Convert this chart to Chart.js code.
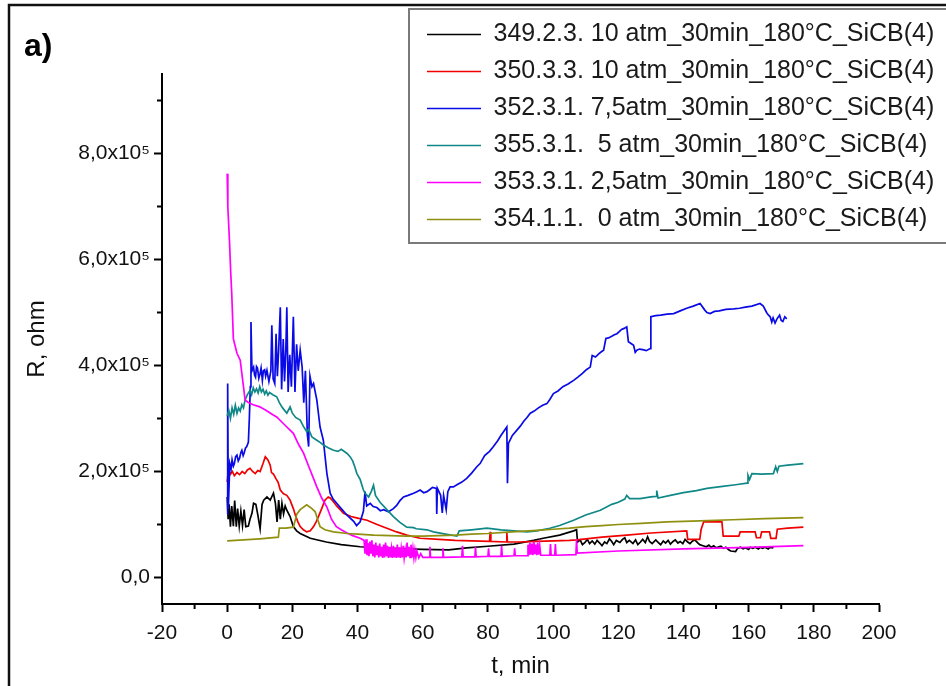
<!DOCTYPE html>
<html>
<head>
<meta charset="utf-8">
<script src="https://cdn.jsdelivr.net/npm/chart.js@4.4.1/dist/chart.umd.min.js"></script>
<style>
html,body{margin:0;padding:0;background:#fff;}
#wrap{width:946px;height:686px;position:relative;}
</style>
</head>
<body>
<div id="wrap"><canvas id="c" width="946" height="686"></canvas></div>
<script>
// ---- data (t in min, R in units of 10^5 ohm) ----
const seriesLabels = [
  '349.2.3. 10 atm_30min_180°C_SiCB(4)',
  '350.3.3. 10 atm_30min_180°C_SiCB(4)',
  '352.3.1. 7,5atm_30min_180°C_SiCB(4)',
  '355.3.1.  5 atm_30min_180°C_SiCB(4)',
  '353.3.1. 2,5atm_30min_180°C_SiCB(4)',
  '354.1.1.  0 atm_30min_180°C_SiCB(4)'
];
const seriesColors = ['#000000', '#f00000', '#0a0ae6', '#108888', '#ff00ff', '#909010'];

const s349 = [[0,1.52],[0.3,1.10],[0.6,1.38],[1.0,0.96],[1.4,1.35],[1.9,0.97],[2.3,1.45],[2.8,0.96],[3.2,1.30],[3.7,0.97],[4.2,1.25],[4.7,0.98],[5.2,1.28],[5.7,0.96],[6.5,0.97],[7.0,1.10],[7.6,1.21],[8.1,1.40],[8.8,1.38],[9.4,1.18],[10.1,0.92],[10.7,1.38],[11.2,1.46],[12.2,1.52],[13.2,1.46],[14.2,1.59],[14.8,1.40],[15.3,1.05],[15.8,1.46],[16.3,1.10],[16.8,1.40],[17.3,1.20],[17.8,1.35],[18.3,1.27],[19.3,1.15],[20.3,0.96],[21.3,0.88],[22.4,0.83],[25.5,0.74],[30.4,0.67],[35,0.62],[40.8,0.58],[51,0.55],[60,0.53],[68,0.52],[73.5,0.56],[80,0.59],[88,0.63],[94,0.70],[97,0.74],[102,0.80],[106.3,0.88],[107.2,0.90],[107.5,0.67],[108.3,0.71],[109,0.62],[109.8,0.66],[110.5,0.72],[111.2,0.64],[112,0.69],[112.8,0.63],[113.5,0.70],[114.3,0.65],[115,0.60],[115.8,0.67],[116.5,0.64],[117.3,0.73],[118,0.68],[118.6,0.62],[119.4,0.70],[120.5,0.66],[121.3,0.72],[122,0.75],[122.6,0.66],[123.4,0.70],[124.5,0.64],[125.3,0.71],[126,0.62],[126.8,0.67],[127.5,0.72],[128.3,0.66],[129,0.77],[129.6,0.68],[130.4,0.64],[131.5,0.71],[132.3,0.66],[133,0.62],[133.8,0.69],[134.5,0.65],[135.3,0.70],[136,0.63],[136.8,0.68],[137.5,0.71],[138.3,0.65],[139,0.68],[139.8,0.64],[140.5,0.72],[141.3,0.67],[142,0.64],[142.8,0.69],[143.5,0.71],[144.3,0.66],[145,0.62],[146,0.60],[147,0.58],[147.8,0.61],[148.5,0.57],[149.3,0.60],[150,0.56],[151.5,0.59],[152.3,0.55],[153,0.57],[154,0.52],[154.5,0.50],[156,0.49],[156.6,0.55],[157.5,0.57],[158.3,0.54],[159,0.56],[160,0.53],[160.5,0.57],[161.3,0.55],[162,0.57],[163,0.54],[163.5,0.57],[164.3,0.55],[165,0.57],[166,0.54],[166.5,0.57],[167.6,0.56]];

const s350 = [[0,1.80],[0.4,2.05],[1,1.95],[1.6,2.00],[2.2,1.92],[3,1.98],[3.8,1.94],[4.6,2.00],[5.4,1.96],[6.2,2.03],[7,2.06],[7.8,2.00],[8.6,1.96],[9.4,2.02],[10.1,2.00],[11,2.15],[11.7,2.28],[12.5,2.22],[13.2,2.12],[13.6,1.98],[14.2,1.95],[15,1.86],[15.6,1.80],[16.3,1.65],[17.3,1.58],[18.3,1.55],[19.3,1.46],[20.3,1.30],[20.9,1.18],[21.7,1.05],[22.4,0.96],[23.4,0.90],[24.4,0.86],[25.5,0.88],[26.5,0.96],[27.3,1.05],[28,1.15],[29,1.30],[30,1.46],[31,1.52],[31.6,1.50],[32.6,1.43],[33.6,1.35],[35.7,1.21],[38,1.15],[40,1.12],[42.9,1.08],[46,1.00],[49,0.93],[52,0.86],[55.1,0.80],[59.2,0.74],[65,0.72],[70,0.70],[75,0.69],[80.5,0.68],[80.7,0.86],[80.9,0.68],[85.6,0.67],[85.8,0.86],[86,0.67],[90,0.67],[95,0.68],[100,0.69],[105,0.70],[107.3,0.71],[115,0.76],[122.6,0.80],[130,0.84],[141,0.88],[141.3,0.72],[145,0.72],[145.4,0.90],[146.2,1.05],[151.8,1.05],[152.2,0.78],[157,0.78],[157.4,0.86],[162,0.86],[162.4,0.75],[163.6,0.75],[164,0.86],[166.4,0.86],[166.8,0.74],[168.4,0.74],[168.8,0.91],[172,0.93],[176.8,0.95]];

const s352 = [[0,1.20],[0.15,3.66],[0.35,1.30],[0.8,2.15],[1.2,2.05],[1.5,2.22],[1.9,2.10],[2.2,2.15],[2.6,2.28],[3,2.31],[3.4,2.20],[3.8,2.25],[4.2,2.36],[4.5,2.40],[4.9,2.30],[5.2,2.35],[5.6,2.44],[6,2.47],[6.5,2.55],[6.8,3.00],[7.1,3.60],[7.3,4.82],[7.6,3.90],[8.1,3.97],[8.4,3.82],[8.7,3.78],[9.0,3.98],[9.3,3.95],[9.7,3.76],[10.1,3.85],[10.4,3.95],[10.8,3.72],[11.1,3.90],[11.5,3.92],[11.8,3.80],[12.2,3.91],[12.8,3.70],[13.4,3.90],[13.7,4.76],[14.1,3.75],[14.6,3.66],[15.0,4.60],[15.4,3.80],[15.8,4.30],[16.3,5.10],[16.7,3.55],[17.2,4.50],[17.6,3.70],[18.0,4.30],[18.3,5.10],[18.7,3.50],[19.2,4.20],[19.7,3.60],[20.3,4.92],[20.8,3.50],[21.3,4.40],[21.8,3.90],[22.4,4.29],[23.0,3.97],[23.5,3.30],[24.0,3.90],[24.6,2.70],[25.0,2.47],[25.4,3.80],[26.0,3.60],[26.5,3.66],[27.5,3.35],[28.5,2.84],[29.5,2.59],[30.6,1.96],[31.6,1.59],[32.5,1.48],[33.6,1.40],[35,1.30],[36.7,1.18],[38.8,1.06],[39.7,0.98],[40.8,1.05],[41.8,1.25],[42.3,1.62],[42.8,1.35],[43.9,1.40],[44.8,1.34],[45.9,1.32],[47,1.26],[48,1.28],[49.5,1.24],[51,1.30],[52,1.36],[53,1.45],[54.1,1.52],[55.5,1.55],[57.2,1.59],[58.2,1.62],[59.2,1.65],[60.3,1.60],[61.3,1.62],[62.2,1.66],[63,1.70],[64.2,1.68],[64.3,1.20],[64.5,1.68],[65.5,1.55],[66,1.22],[66.4,1.55],[67.2,1.28],[67.7,1.62],[68.4,1.71],[69.4,1.71],[70.5,1.75],[72,1.80],[73.5,1.87],[75,1.97],[76.6,2.09],[77.6,2.15],[79,2.30],[80.5,2.38],[81.7,2.47],[83,2.58],[84,2.68],[85.8,2.84],[86.0,1.78],[86.3,2.53],[87.5,2.68],[88.9,2.78],[90,2.86],[91,2.95],[92,3.02],[93,3.10],[94.2,3.14],[95.5,3.20],[96.8,3.25],[98.1,3.28],[99,3.36],[100.1,3.47],[101.5,3.52],[103,3.60],[104.6,3.65],[106.3,3.72],[107.6,3.78],[109,3.85],[110.2,3.92],[111.4,3.97],[112,4.19],[113,4.16],[114,4.22],[114.8,4.26],[115.5,4.29],[116.2,4.51],[117,4.52],[118,4.55],[118.8,4.58],[119.6,4.60],[120.3,4.64],[121,4.68],[121.8,4.70],[122.6,4.73],[123.1,4.45],[123.8,4.42],[124.7,4.38],[125.2,4.25],[125.7,4.29],[126.5,4.31],[127.5,4.30],[128.6,4.28],[129.8,4.32],[130,4.92],[131.5,4.94],[133,4.95],[135,4.97],[137,4.98],[139,5.03],[141,5.08],[143,5.12],[145.1,5.17],[146.5,5.05],[147.2,5.00],[148.2,4.98],[149.5,5.02],[151,5.03],[153,5.06],[155.4,5.07],[157.2,5.08],[159,5.10],[161,5.12],[163.5,5.17],[164.5,5.12],[165.5,5.00],[166.1,4.95],[166.6,4.92],[167.1,4.82],[167.5,4.90],[168.1,4.80],[168.7,4.88],[169.5,4.95],[170,4.85],[170.5,4.83],[171.1,4.92],[171.7,4.88]];

const s355 = [[0,3.05],[0.5,3.15],[1,3.00],[1.5,3.20],[2,3.08],[2.5,3.25],[3,3.10],[3.5,3.20],[4,3.14],[4.5,3.26],[5,3.20],[5.5,3.35],[6.2,3.45],[7,3.53],[7.5,3.45],[8,3.58],[8.5,3.50],[9,3.56],[9.5,3.48],[10,3.60],[10.5,3.50],[11,3.55],[11.5,3.46],[12,3.52],[12.5,3.44],[13,3.49],[14,3.45],[15.2,3.41],[16,3.30],[17,3.20],[18.3,3.10],[19.3,3.22],[20,3.10],[21,3.02],[22.4,2.97],[23.4,2.85],[24.4,2.75],[25,2.80],[26,2.65],[27.5,2.59],[28.5,2.55],[29.5,2.50],[31,2.45],[32.6,2.40],[34,2.38],[35,2.42],[36.8,2.34],[37.7,2.28],[38.5,2.20],[39.2,2.08],[39.8,1.96],[40.8,1.85],[41.8,1.65],[42.3,1.59],[43.4,1.52],[44.2,1.62],[44.9,1.74],[45.5,1.55],[46.9,1.42],[49,1.28],[51,1.15],[53,1.04],[55.1,0.95],[57.2,0.94],[58,0.92],[61.3,0.90],[63.3,0.86],[67,0.82],[70.5,0.78],[71.2,0.88],[75,0.90],[79.7,0.93],[84,0.90],[88,0.88],[92,0.86],[95,0.88],[99,0.93],[102,0.98],[106.3,1.08],[110,1.18],[114.5,1.27],[118,1.38],[120,1.42],[122,1.48],[122.6,1.55],[123.5,1.49],[126.7,1.49],[130,1.52],[131.6,1.53],[131.8,1.64],[132.2,1.50],[136,1.55],[140,1.60],[144,1.64],[147.2,1.68],[152,1.72],[156,1.75],[159.5,1.78],[159.8,1.93],[160.3,1.85],[161,1.96],[164,1.95],[167.6,1.96],[168.3,2.09],[168.8,2.00],[169.3,2.10],[172,2.12],[176.8,2.15]];

const s353 = [[0,7.62],[0.2,6.99],[0.7,6.36],[1.1,5.73],[1.4,5.36],[1.9,4.50],[3.0,4.23],[4.0,4.10],[5.0,3.60],[5.5,3.35],[6.5,3.30],[8,3.26],[10,3.22],[12,3.15],[14,3.07],[15.2,3.03],[17,2.92],[18.3,2.84],[20.3,2.72],[22,2.50],[23.4,2.35],[25,2.10],[27.5,1.71],[29,1.50],[30.6,1.33],[32,1.10],[33.5,0.96],[35,0.90],[36.8,0.84],[38.5,0.79],[40.8,0.74],[42,0.70],[42.3,0.45],[42.6,0.72],[42.9,0.42],[43.2,0.65],[43.5,0.40],[43.8,0.68],[44.1,0.45],[44.4,0.70],[44.7,0.40],[45,0.62],[45.3,0.38],[45.6,0.66],[45.9,0.42],[46.2,0.60],[46.5,0.38],[46.8,0.64],[47.1,0.40],[47.4,0.58],[47.7,0.37],[48,0.62],[48.3,0.38],[48.6,0.66],[48.9,0.40],[49.2,0.60],[49.5,0.37],[49.8,0.58],[50.1,0.38],[50.4,0.55],[50.7,0.37],[51,0.60],[51.3,0.38],[51.6,0.56],[51.9,0.37],[52.2,0.62],[52.5,0.38],[52.8,0.57],[53.1,0.37],[53.4,0.55],[53.7,0.38],[54,0.60],[54.3,0.37],[54.6,0.52],[54.9,0.38],[55.2,0.66],[55.5,0.40],[55.8,0.58],[56.1,0.38],[56.4,0.62],[56.7,0.38],[57,0.55],[57.3,0.37],[57.6,0.52],[57.9,0.38],[58.2,0.50],[58.8,0.37],[59.4,0.45],[60,0.38],[62,0.38],[62.2,0.58],[62.4,0.38],[66,0.38],[66.2,0.55],[66.4,0.38],[72,0.39],[72.2,0.60],[72.4,0.39],[76,0.39],[76.2,0.58],[76.4,0.39],[80,0.40],[80.2,0.55],[80.4,0.40],[84,0.40],[84.2,0.60],[84.4,0.40],[88,0.41],[88.2,0.55],[88.4,0.41],[92,0.41],[92.3,0.62],[92.6,0.42],[92.9,0.66],[93.2,0.43],[93.5,0.64],[93.8,0.42],[94.1,0.68],[94.4,0.44],[94.7,0.62],[95,0.42],[95.3,0.66],[95.6,0.43],[95.9,0.60],[96.2,0.42],[97,0.42],[99,0.42],[99.2,0.63],[99.4,0.42],[100.5,0.42],[100.7,0.63],[100.9,0.42],[107,0.43],[107.2,0.72],[107.4,0.46],[120,0.50],[140,0.54],[160,0.57],[176.8,0.60]];

const s354 = [[0,0.69],[5,0.71],[10,0.73],[15.7,0.76],[16.0,0.93],[18,0.93],[20.3,0.95],[21.4,1.20],[22.4,1.28],[24.4,1.37],[26,1.30],[27,1.24],[28,1.05],[28.5,0.96],[30,0.90],[32.6,0.86],[36.8,0.83],[40,0.82],[45,0.80],[50,0.79],[55,0.78],[60,0.78],[65,0.79],[70,0.80],[75,0.82],[80,0.83],[85,0.85],[90,0.87],[95,0.89],[100,0.91],[105,0.93],[110,0.96],[115,0.98],[120,1.00],[127,1.02],[135,1.05],[145,1.07],[155,1.09],[165,1.11],[176.8,1.13]];

const seriesData = [s349, s350, s352, s355, s353, s354];

// ---- ticks ----
const xMajorTicks = [-20, 0, 20, 40, 60, 80, 100, 120, 140, 160, 180, 200];
const xMinorTicks = [-10, 10, 30, 50, 70, 90, 110, 130, 150, 170, 190];
const yMajorTicks = [0, 2, 4, 6, 8];
const yMajorLabels = ['0,0', '2,0x10\u2075', '4,0x10\u2075', '6,0x10\u2075', '8,0x10\u2075'];
const yMinorTicks = [1, 3, 5, 7, 9];

const FONT = "'Liberation Sans', Arial, sans-serif";

const datasets = seriesData.map((pts, i) => ({
  label: seriesLabels[i],
  data: pts.map(p => ({x: p[0], y: p[1]})),
  borderColor: seriesColors[i],
  backgroundColor: seriesColors[i],
  borderWidth: 1.7,
  pointRadius: 0,
  tension: 0,
  fill: false,
  order: seriesData.length - i
}));

const placeLegend = {
  id: 'placeLegend',
  afterLayout(chart) {
    const lg = chart.legend;
    if (!lg) return;
    const w = lg.width, h = lg.height;
    lg.left = 415; lg.top = 10; lg.right = lg.left + w; lg.bottom = lg.top + h;
  }
};

const decorations = {
  id: 'decorations',
  afterDraw(chart) {
    const ctx = chart.ctx;
    const xs = chart.scales.x, ys = chart.scales.y;
    ctx.save();
    ctx.strokeStyle = '#000';
    ctx.lineWidth = 2;
    xMinorTicks.forEach(v => {
      const px = xs.getPixelForValue(v);
      ctx.beginPath(); ctx.moveTo(px, xs.top); ctx.lineTo(px, xs.top + 5); ctx.stroke();
    });
    yMinorTicks.forEach(v => {
      const py = ys.getPixelForValue(v);
      ctx.beginPath(); ctx.moveTo(ys.right, py); ctx.lineTo(ys.right - 5, py); ctx.stroke();
    });
    ctx.lineWidth = 2.5;
    ctx.strokeStyle = '#111';
    ctx.strokeRect(9, 5, 1000, 1000);
    ctx.lineWidth = 2;
    ctx.strokeStyle = '#7a7a7a';
    ctx.strokeRect(409, 9, 600, 234);
    ctx.fillStyle = '#000';
    ctx.font = "bold 32px " + FONT;
    ctx.textBaseline = 'middle';
    ctx.textAlign = 'left';
    ctx.fillText('a)', 24, 47);
    ctx.restore();
  }
};

new Chart(document.getElementById('c'), {
  type: 'line',
  data: { datasets },
  plugins: [placeLegend, decorations],
  options: {
    responsive: false,
    animation: false,
    devicePixelRatio: 1,
    layout: { padding: { left: 0, right: 67, top: 74, bottom: 0 } },
    plugins: {
      tooltip: { enabled: false },
      legend: {
        display: true,
        position: 'chartArea',
        align: 'start',
        labels: {
          usePointStyle: true,
          pointStyle: 'line',
          pointStyleWidth: 54,
          padding: 12,
          color: '#1a1a1a',
          font: { family: FONT, size: 25 },
          sort: (a, b) => a.datasetIndex - b.datasetIndex
        }
      }
    },
    scales: {
      x: {
        type: 'linear',
        min: -20, max: 200,
        afterFit: s => { s.height = 82; },
        afterBuildTicks: s => { s.ticks = xMajorTicks.map(v => ({value: v})); },
        grid: { display: true, drawOnChartArea: false, drawTicks: true, tickLength: 8, tickWidth: 2, tickColor: '#000' },
        border: { display: true, color: '#000', width: 2 },
        ticks: { color: '#111', padding: 9, maxRotation: 0, autoSkip: false, font: { family: FONT, size: 21 }, callback: v => String(v) },
        title: { display: true, text: 't, min', color: '#111', font: { family: FONT, size: 24 }, padding: { top: 0, bottom: 5 } }
      },
      y: {
        type: 'linear',
        min: -0.5, max: 9.5,
        afterFit: s => { s.width = 162; },
        afterBuildTicks: s => { s.ticks = yMajorTicks.map(v => ({value: v})); },
        grid: { display: true, drawOnChartArea: false, drawTicks: true, tickLength: 8, tickWidth: 2, tickColor: '#000' },
        border: { display: true, color: '#000', width: 2 },
        ticks: { color: '#111', padding: 4, autoSkip: false, font: { family: FONT, size: 21 },
          callback: v => { const i = yMajorTicks.indexOf(v); return i >= 0 ? yMajorLabels[i] : ''; } },
        title: { display: true, text: 'R, ohm', color: '#111', font: { family: FONT, size: 24 }, padding: { top: 23, bottom: 0 } }
      }
    }
  }
});
</script>
</body>
</html>
